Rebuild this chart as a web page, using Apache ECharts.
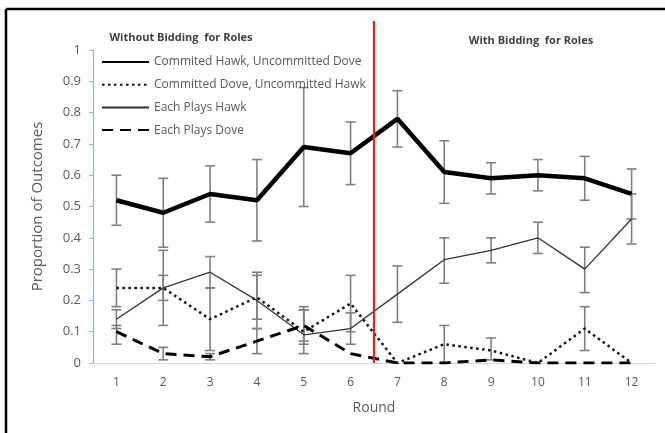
<!DOCTYPE html>
<html>
<head>
<meta charset="utf-8">
<script src="https://cdn.jsdelivr.net/npm/echarts@6/dist/echarts.min.js"></script>
<style>html,body{margin:0;padding:0;background:#fff}#c{width:665px;height:433px}</style>
</head>
<body>
<div id="c"></div>
<script>
const rounds = ['1','2','3','4','5','6','7','8','9','10','11','12'];
const yTicks = [0,0.1,0.2,0.3,0.4,0.5,0.6,0.7,0.8,0.9,1];
const seriesNames = ['Commited Hawk, Uncommitted Dove','Committed Dove, Uncommitted Hawk','Each Plays Hawk','Each Plays Dove'];
const periodTitles = ['Without Bidding  for Roles','With Bidding  for Roles'];

const hawkDove  = [0.52,0.48,0.54,0.52,0.69,0.67,0.78,0.61,0.59,0.60,0.59,0.54];
const hawkDoveLo= [0.44,0.37,0.45,0.39,0.50,0.57,0.69,0.51,0.54,0.55,0.52,0.46];
const hawkDoveHi= [0.60,0.59,0.63,0.65,0.88,0.77,0.87,0.71,0.64,0.65,0.66,0.62];

const doveHawk  = [0.24,0.24,0.14,0.21,0.10,0.19,0.00,0.06,0.04,0.00,0.11,0.00];
const doveHawkLo= [0.18,0.20,0.04,0.14,0.03,0.10,null,0.00,0.01,null,0.04,null];
const doveHawkHi= [0.30,0.28,0.24,0.28,0.17,0.28,null,0.12,0.08,null,0.18,null];

const bothHawk  = [0.14,0.24,0.29,0.20,0.09,0.11,0.22,0.33,0.36,0.40,0.30,0.46];
const bothHawkLo= [0.11,0.12,0.24,0.11,0.06,0.06,0.13,0.255,0.32,0.35,0.225,0.38];
const bothHawkHi= [0.17,0.36,0.34,0.29,0.17,0.16,0.31,0.40,0.40,0.45,0.37,0.54];

const bothDove  = [0.10,0.03,0.02,0.07,0.12,0.03,0.00,0.00,0.01,0.00,0.00,0.00];
const bothDoveLo= [0.06,0.01,0.01,0.03,0.07,null,null,null,null,null,null,null];
const bothDoveHi= [0.12,0.05,0.03,0.11,0.18,null,null,null,null,null,null,null];

const splitBetween = [5,6]; // between round 6 and round 7 (category indexes)

function errData(lo, hi){
  const out=[];
  for(let i=0;i<lo.length;i++){ if(lo[i]!=null && hi[i]!=null) out.push([i, lo[i], hi[i]]); }
  return out;
}
function errorBarRender(params, api){
  const x = api.value(0);
  const lo = api.coord([x, api.value(1)]);
  const hi = api.coord([x, api.value(2)]);
  const w = 5;
  const st = {stroke:'#808080', lineWidth:1.6};
  return {type:'group', children:[
    {type:'line', shape:{x1:lo[0],y1:lo[1],x2:hi[0],y2:hi[1]}, style:st},
    {type:'line', shape:{x1:lo[0]-w,y1:lo[1],x2:lo[0]+w,y2:lo[1]}, style:st},
    {type:'line', shape:{x1:hi[0]-w,y1:hi[1],x2:hi[0]+w,y2:hi[1]}, style:st}
  ]};
}
function errSeries(lo, hi){
  return {type:'custom', renderItem:errorBarRender, data:errData(lo,hi), z:1, silent:true, encode:{x:0,y:[1,2]}};
}

const chart = echarts.init(document.getElementById('c'));
const font = 'Open Sans, Liberation Sans, sans-serif';
chart.setOption({
  animation:false,
  backgroundColor:'#ffffff',
  textStyle:{fontFamily:font},
  grid:{left:93, right:10, top:50, bottom:70, containLabel:false},
  legend:{
    data:seriesNames, orient:'vertical', left:96, top:50,
    itemWidth:47, itemHeight:14, itemGap:8.7,
    itemStyle:{color:'rgba(0,0,0,0)', borderWidth:0, opacity:0},
    textStyle:{color:'#595959', fontSize:12, lineHeight:14, fontFamily:font}
  },
  xAxis:{
    type:'category', data:rounds, boundaryGap:true,
    name:'Round', nameLocation:'middle', nameGap:38,
    nameTextStyle:{color:'#595959', fontSize:14},
    axisLine:{lineStyle:{color:'#d9d9d9', width:1}},
    axisTick:{show:false},
    axisLabel:{color:'#595959', fontSize:12, margin:14},
    splitLine:{show:false}
  },
  yAxis:{
    type:'value', min:0, max:1, interval:0.1,
    name:'Proportion of Outcomes', nameLocation:'middle', nameGap:48,
    nameTextStyle:{color:'#595959', fontSize:15},
    axisLine:{show:true, lineStyle:{color:'#8db4e2', width:1.2}},
    axisTick:{show:true, inside:false, length:4, lineStyle:{color:'#8db4e2'}},
    axisLabel:{color:'#595959', fontSize:13, margin:12,
      formatter:function(v){ const t = yTicks.find(function(k){return Math.abs(k-v)<1e-6;}); return t===undefined? '' : String(t); }},
    splitLine:{show:false}
  },
  graphic:[
    {type:'line', shape:{x1:6,y1:9,x2:665,y2:9}, style:{stroke:'#000', lineWidth:2.5}},
    {type:'line', shape:{x1:6,y1:9,x2:6,y2:433}, style:{stroke:'#000', lineWidth:2.5}},
    {type:'text', x:181, y:32, style:{text:periodTitles[0], fill:'#404040', font:'bold 11px '+font, textAlign:'center'}},
    {type:'text', x:531, y:35, style:{text:periodTitles[1], fill:'#404040', font:'bold 11px '+font, textAlign:'center'}}
  ],
  series:[
    errSeries(hawkDoveLo, hawkDoveHi),
    errSeries(doveHawkLo, doveHawkHi),
    errSeries(bothHawkLo, bothHawkHi),
    errSeries(bothDoveLo, bothDoveHi),
    {name:seriesNames[0], type:'line', data:hawkDove, symbol:'none', z:3,
      lineStyle:{color:'#000', width:4.5}, itemStyle:{color:'#000'}},
    {name:seriesNames[1], type:'line', data:doveHawk, symbol:'none', z:3,
      lineStyle:{color:'#111', width:2.5, type:[2.5,3.5]}, itemStyle:{color:'#111'}},
    {name:seriesNames[2], type:'line', data:bothHawk, symbol:'none', z:3,
      lineStyle:{color:'#333', width:1.3}, itemStyle:{color:'#333'}},
    {name:seriesNames[3], type:'line', data:bothDove, symbol:'none', z:3,
      lineStyle:{color:'#000', width:3, type:[11,7]}, itemStyle:{color:'#000'}},
    {type:'custom', silent:true, z:4, clip:false, data:[splitBetween],
      renderItem:function(params, api){
        const a = api.coord([api.value(0), 0]);
        const b = api.coord([api.value(1), 0]);
        const top = api.coord([api.value(0), 1]);
        const x = (a[0]+b[0])/2;
        return {type:'line', shape:{x1:x, y1:a[1], x2:x, y2:top[1]-29}, style:{stroke:'#e0201b', lineWidth:2.2}};
      }}
  ]
});
</script>
</body>
</html>
